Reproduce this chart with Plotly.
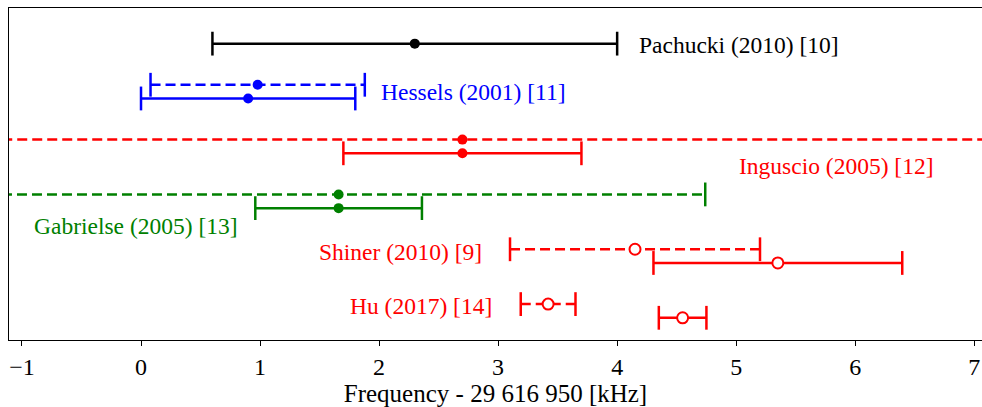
import plotly.graph_objects as go

# Measurements of the helium 2^3P1 - 2^3P2 fine-structure interval,
# offset by 29 616 950 kHz. Each study has a dashed row and a solid row.
row_y = [6.0, 5.25, 5.0, 4.25, 4.0, 3.25, 3.0, 2.25, 2.0, 1.25, 1.0]
values = [2.30, 0.98, 0.90, 2.70, 2.70, 1.66, 1.66, 4.15, 5.35, 3.42, 4.55]
errors = [1.70, 0.90, 0.90, 5.00, 1.00, 3.08, 0.70, 1.05, 1.045, 0.23, 0.20]
row_dash = [False, True, False, True, False, True, False, True, False, True, False]
row_color = ["#000000", "#0000ff", "#0000ff", "#ff0000", "#ff0000",
             "#008000", "#008000", "#ff0000", "#ff0000", "#ff0000", "#ff0000"]
row_filled = [True, True, True, True, True, True, True, False, False, False, False]

labels = ["Pachucki (2010) [10]", "Hessels (2001) [11]", "Inguscio (2005) [12]",
          "Gabrielse (2005) [13]", "Shiner (2010) [9]", "Hu (2017) [14]"]
label_color = ["#000000", "#0000ff", "#ff0000", "#008000", "#ff0000", "#ff0000"]
label_x = [5.02, 2.79, 5.84, -0.042, 2.18, 2.355]
label_y = [5.97, 5.115, 3.77, 2.67, 2.20, 1.21]

x_ticks = [-1, 0, 1, 2, 3, 4, 5, 6, 7]
x_title = "Frequency - 29 616 950 [kHz]"

FONT = "Liberation Serif"
LW = 2.5

fig = go.Figure()

for y, v, e, dashed, col, filled in zip(row_y, values, errors, row_dash, row_color, row_filled):
    lo, hi = v - e, v + e
    # horizontal uncertainty bar
    fig.add_trace(go.Scatter(
        x=[lo, hi], y=[y, y], mode="lines",
        line=dict(color=col, width=LW, dash="10px,5px" if dashed else "solid"),
        hoverinfo="skip", showlegend=False))
    # end caps
    fig.add_trace(go.Scatter(
        x=[lo, hi], y=[y, y], mode="markers",
        marker=dict(symbol="line-ns", size=17, line=dict(color=col, width=LW)),
        hoverinfo="skip", showlegend=False))
    # central value
    fig.add_trace(go.Scatter(
        x=[v], y=[y], mode="markers",
        marker=dict(symbol="circle", size=10 if filled else 11,
                    color=col if filled else "#ffffff",
                    line=dict(color=col, width=0 if filled else 2)),
        showlegend=False))

for text, col, lx, ly in zip(labels, label_color, label_x, label_y):
    fig.add_annotation(x=lx, y=ly, xref="x", yref="y", text=text, showarrow=False,
                       xanchor="center", yanchor="middle",
                       font=dict(family=FONT, size=23.5, color=col))

fig.update_layout(
    width=982, height=407,
    margin=dict(l=9, r=0, t=8, b=67),
    plot_bgcolor="#ffffff", paper_bgcolor="#ffffff",
    font=dict(family=FONT, size=23, color="#000000"),
    xaxis=dict(range=[-1.109, 7.065], tickvals=x_ticks, ticks="outside", ticklen=5,
               tickwidth=1, tickcolor="#000000", showline=True, linecolor="#000000",
               linewidth=1, mirror=True, showgrid=False, zeroline=False,
               tickfont=dict(family=FONT, size=24),
               title=dict(text=x_title, font=dict(family=FONT, size=25), standoff=7)),
    yaxis=dict(range=[0.595, 6.65], showticklabels=False, ticks="", showline=True,
               linecolor="#000000", linewidth=1, mirror=False, showgrid=False,
               zeroline=False),
)

fig.write_html("out.html")
